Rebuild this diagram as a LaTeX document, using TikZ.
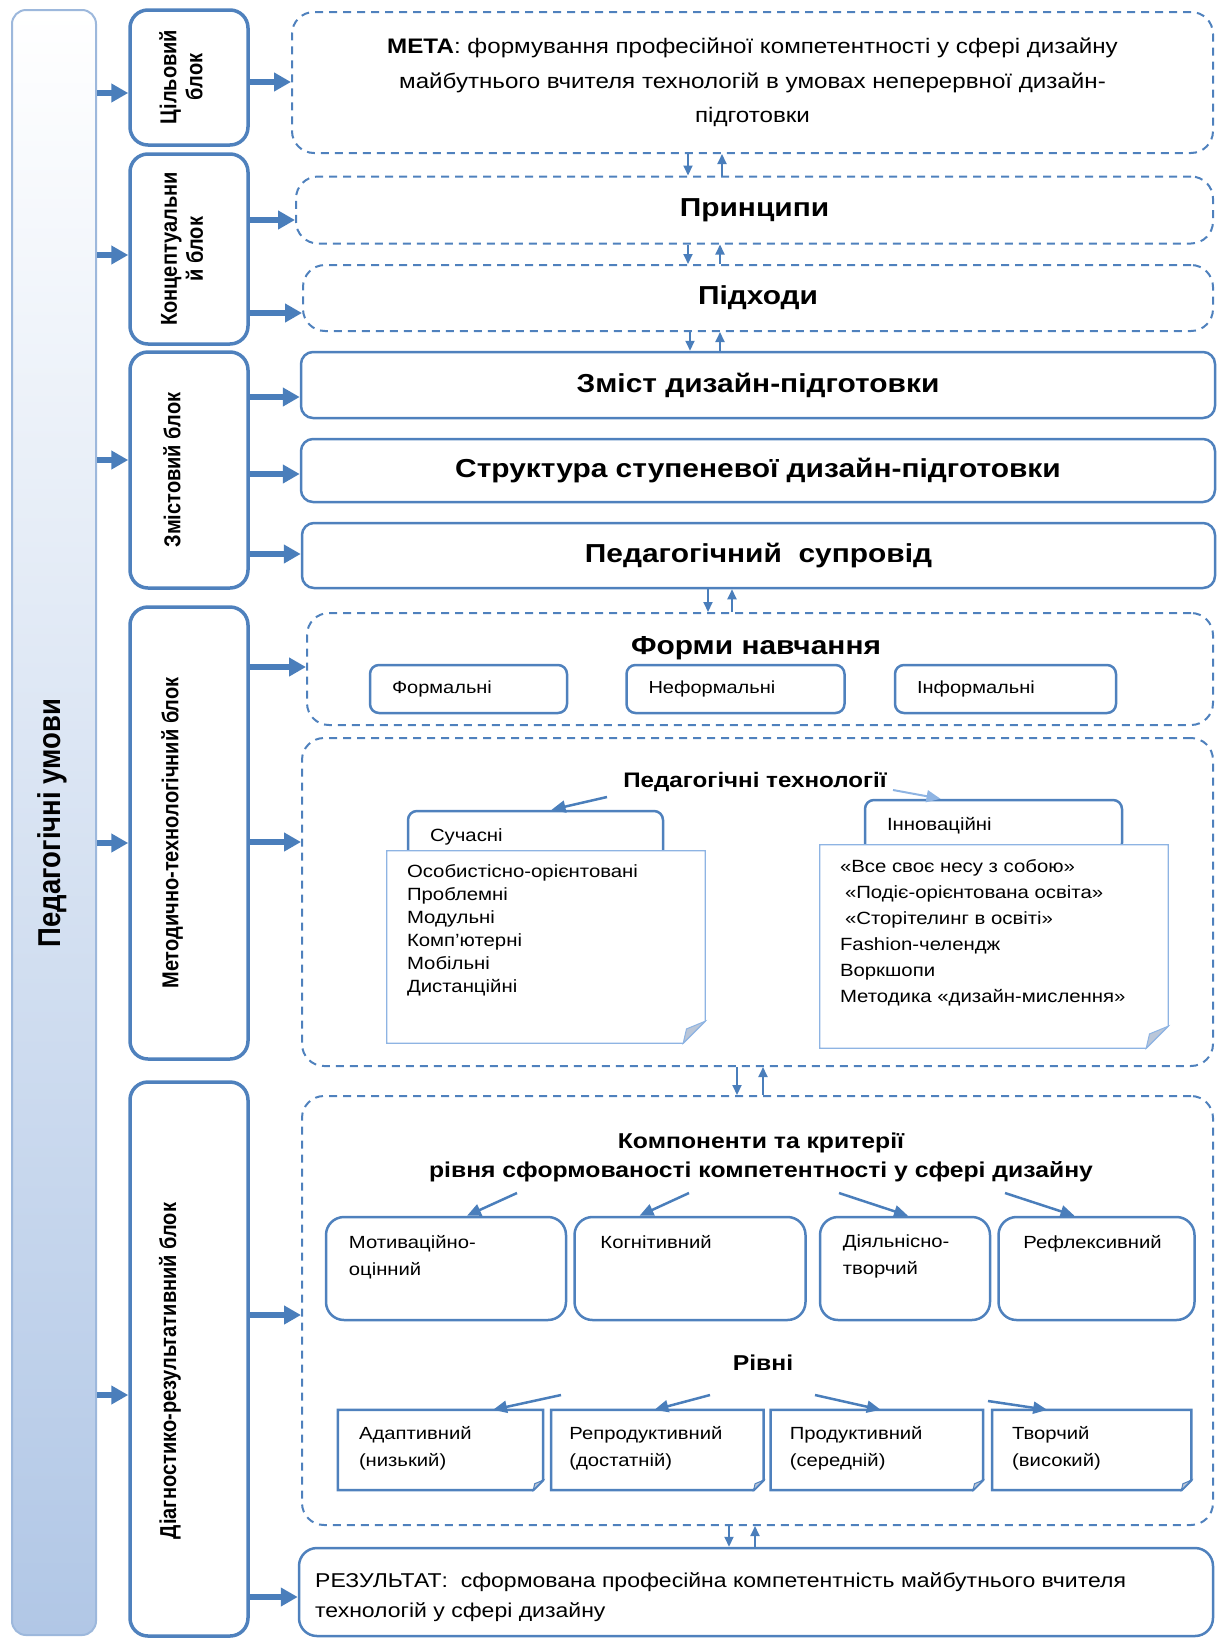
\documentclass[tikz,border=0pt]{standalone}
\usepackage{fontspec}
\setmainfont{Liberation Sans}[FakeStretch=1.15]
\newfontfamily\rotfont{Liberation Sans}[FakeStretch=0.87]
\usepackage{tikz}
\usetikzlibrary{arrows.meta,positioning}

\definecolor{schemeblue}{HTML}{4F81BD}
\definecolor{arrowblue}{HTML}{4A7EBB}
\definecolor{paleblue}{HTML}{8EB4E3}
\definecolor{barblue}{HTML}{B1C7E6}
\definecolor{barline}{HTML}{9DB8DC}
\definecolor{foldgrey}{HTML}{BAC6D8}

\begin{document}
\begin{tikzpicture}[x=1pt, y=-1pt, >={Triangle[length=17pt,width=18pt]},
  block/.style={draw=schemeblue, line width=3.5pt, rounded corners=18pt, minimum width=118pt},
  blocklabel/.style={rotate=90, align=center, inner sep=0pt, font=\rotfont\bfseries\fontsize{23}{26}\selectfont},
  dashbox/.style={draw=schemeblue, line width=2pt, dash pattern=on 8pt off 6pt, rounded corners=22pt},
  plainbox/.style={draw=schemeblue, line width=2.5pt, rounded corners=12pt},
  heading/.style={font=\bfseries\fontsize{26}{30}\selectfont},
  subhead/.style={font=\bfseries\fontsize{21.5}{29}\selectfont, align=center},
  smallbox/.style={plainbox, rounded corners=9pt, minimum height=48pt, inner xsep=22pt, align=left, font=\fontsize{17.4}{21}\selectfont},
  tab/.style={plainbox, rounded corners=9pt, minimum height=52pt, inner xsep=22pt, align=left, font=\fontsize{17.7}{21}\selectfont},
  compbox/.style={plainbox, rounded corners=18pt, minimum height=103pt},
  note/.style={fill=white, inner sep=0pt},
  itemtext/.style={anchor=north west, inner sep=0pt, align=left, font=\fontsize{17.6}{27}\selectfont},
  fat/.style={->, draw=arrowblue, line width=6pt},
  updown/.style={-{Triangle[length=10pt,width=9pt]}, draw=arrowblue, line width=2pt},
  pointer/.style={-{Triangle[length=14pt,width=12pt]}, draw=arrowblue, line width=2.5pt}]

\useasboundingbox (0,0) rectangle (1218,1639);

% left column and blocks
\node (bar) [draw=barline, line width=2pt, rounded corners=14pt, top color=white, bottom color=barblue, minimum width=84pt, minimum height=1625pt] at (54,822.5) {};
\node (barlabel) [rotate=90, font=\rotfont\bfseries\fontsize{31.6}{36}\selectfont] at (52,823) {Педагогічні умови};

\node (goal) [block, minimum height=135pt] at (189,77.5) {};
\node (goallabel) [blocklabel] at (181,77) {Цільовий\\блок};
\node (concept) [block, minimum height=190pt] at (189,249) {};
\node (conceptlabel) [blocklabel] at (182,249) {Концептуальни\\й блок};
\node (content) [block, minimum height=236pt] at (189,470) {};
\node (contentlabel) [blocklabel] at (172,470) {Змістовий блок};
\node (method) [block, minimum height=452pt] at (189,833) {};
\node (methodlabel) [blocklabel] at (172,833) {Методично-технологічний блок};
\node (diag) [block, minimum height=554pt] at (189,1359) {};
\node (diaglabel) [blocklabel] at (170,1371) {Діагностико-результативний блок};

% right column
\node (meta) [dashbox, minimum width=921pt, minimum height=141pt, align=center, font=\fontsize{21}{34.5}\selectfont] at (752.5,82.5)
  {\textbf{МЕТА}: формування професійної компетентності у сфері дизайну\\майбутнього вчителя технологій в умовах неперервної дизайн-\\підготовки};
\node (principles) [dashbox, heading, minimum width=917pt, minimum height=67pt] at (754.5,210) {Принципи};
\node (approaches) [dashbox, heading, minimum width=910pt, minimum height=66pt] at (758,298) {Підходи};
\node (essence) [plainbox, heading, minimum width=914pt, minimum height=66pt] at (758,385) {Зміст дизайн-підготовки};
\node (structure) [plainbox, heading, minimum width=914pt, minimum height=63pt] at (758,470.5) {Структура ступеневої дизайн-підготовки};
\node (support) [plainbox, heading, minimum width=913pt, minimum height=65pt] at (758.5,555.5) {Педагогічний~ супровід};

% forms
\node (forms) [dashbox, minimum width=906pt, minimum height=112pt] at (760,669) {};
\node (formtitle) [heading] at (756,648) {Форми навчання};
\node (formal) [smallbox, text width=153pt] at (468.5,689) {Формальні};
\node (nonformal) [smallbox, text width=174pt, right=57pt of formal] {Неформальні};
\node (informal) [smallbox, text width=177pt, right=48pt of nonformal] {Інформальні};

% technologies
\node (tech) [dashbox, minimum width=911pt, minimum height=328pt] at (757.5,902) {};
\node (techtitle) [font=\bfseries\fontsize{21}{25}\selectfont] at (755,782) {Педагогічні технології};
\node (modtab) [tab, text width=211pt] at (535.5,837) {Сучасні};
\node (inntab) [tab, text width=213pt] at (993.5,826) {Інноваційні};
\node (modnote) [note, minimum width=318pt, minimum height=192pt] at (546,947) {};
\node (innnote) [note, minimum width=348pt, minimum height=203pt] at (994,946.5) {};
\foreach \n/\f in {modnote/22, innnote/22}{
  \draw[paleblue, line width=1.3pt] (\n.north west) -- (\n.north east) -- ([yshift=\f*1pt]\n.south east)
    -- ([xshift=-\f*1pt]\n.south east) -- (\n.south west) -- cycle;
  \filldraw[draw=paleblue, fill=foldgrey, line width=1pt] ([yshift=\f*1pt]\n.south east) -- ([xshift=-\f*1pt]\n.south east)
    -- ([xshift=-0.85*\f*1pt, yshift=0.65*\f*1pt]\n.south east) -- cycle;
}
\node (modlist) [itemtext, font=\fontsize{17.7}{23}\selectfont] at ([xshift=20pt, yshift=-14pt]modnote.north west)
  {Особистісно-орієнтовані\\Проблемні\\Модульні\\Комп'ютерні\\Мобільні\\Дистанційні};
\node (innlist) [itemtext, font=\fontsize{17.7}{26}\selectfont] at ([xshift=20pt, yshift=-15pt]innnote.north west)
  {«Все своє несу з собою»\\\hspace{5pt}«Подіє-орієнтована освіта»\\\hspace{5pt}«Сторітелинг в освіті»\\Fashion-челендж\\Воркшопи\\Методика «дизайн-мислення»};
\coordinate (modfrom) at (607,797);
\coordinate (innfrom) at (893,790);
\draw[pointer] (modfrom) -- ([xshift=16pt]modtab.north);
\draw[pointer, draw=paleblue, line width=2pt] (innfrom) -- ([xshift=-53pt]inntab.north);

% diagnostics
\node (diagbox) [dashbox, minimum width=911pt, minimum height=429pt] at (757.5,1310.5) {};
\node (comptitle) [subhead] at (761,1157) {Компоненти та критерії\\рівня сформованості компетентності у сфері дизайну};
\node (motiv) [compbox, minimum width=240pt] at (446,1268.5) {};
\node (cogn) [compbox, minimum width=231pt, right=6pt of motiv] {};
\node (activ) [compbox, minimum width=170pt, right=12pt of cogn] {};
\node (reflex) [compbox, minimum width=196pt, right=6pt of activ] {};
\node (motivtext) [itemtext] at ([xshift=24pt, yshift=-19pt]motiv.north west) {Мотиваційно-\\оцінний};
\node (cogntext) [itemtext] at ([xshift=27pt, yshift=-19pt]cogn.north west) {Когнітивний};
\node (activtext) [itemtext] at ([xshift=24pt, yshift=-19pt]activ.north west) {Діяльнісно-\\творчий};
\node (reflextext) [itemtext] at ([xshift=26pt, yshift=-19pt]reflex.north west) {Рефлексивний};
\coordinate (motivfrom) at (517,1193);
\coordinate (cognfrom) at (689,1193);
\coordinate (activfrom) at (839,1193);
\coordinate (reflexfrom) at (1005,1193);
\draw[pointer] (motivfrom) -- ([xshift=21pt]motiv.north);
\draw[pointer] (cognfrom) -- ([xshift=-50.5pt]cogn.north);
\draw[pointer] (activfrom) -- ([xshift=3pt]activ.north);
\draw[pointer] (reflexfrom) -- ([xshift=-22pt]reflex.north);

\node (levtitle) [subhead] at (763,1363) {Рівні};
\node (low) [note, minimum width=205pt, minimum height=80pt] at (440.5,1450) {};
\node (repro) [note, minimum width=212pt, minimum height=80pt, right=8pt of low] {};
\node (prod) [note, minimum width=212pt, minimum height=80pt, right=7pt of repro] {};
\node (creat) [note, minimum width=199pt, minimum height=80pt, right=9pt of prod] {};
\foreach \n/\f in {low/10, repro/10, prod/10, creat/10}{
  \draw[schemeblue, line width=2.5pt] (\n.north west) -- (\n.north east) -- ([yshift=\f*1pt]\n.south east)
    -- ([xshift=-\f*1pt]\n.south east) -- (\n.south west) -- cycle;
  \filldraw[draw=schemeblue, fill=foldgrey, line width=1pt] ([yshift=\f*1pt]\n.south east) -- ([xshift=-\f*1pt]\n.south east)
    -- ([xshift=-0.85*\f*1pt, yshift=0.65*\f*1pt]\n.south east) -- cycle;
}
\node (lowtext) [itemtext] at ([xshift=21pt, yshift=-16pt]low.north west) {Адаптивний\\(низький)};
\node (reprotext) [itemtext] at ([xshift=18pt, yshift=-16pt]repro.north west) {Репродуктивний\\(достатній)};
\node (prodtext) [itemtext] at ([xshift=19pt, yshift=-16pt]prod.north west) {Продуктивний\\(середній)};
\node (creattext) [itemtext] at ([xshift=20pt, yshift=-16pt]creat.north west) {Творчий\\(високий)};
\coordinate (lowfrom) at (561,1395);
\coordinate (reprofrom) at (710,1395);
\coordinate (prodfrom) at (815,1395);
\coordinate (creatfrom) at (988,1401);
\draw[pointer] (lowfrom) -- ([xshift=52.5pt]low.north);
\draw[pointer] (reprofrom) -- ([xshift=-3pt]repro.north);
\draw[pointer] (prodfrom) -- ([xshift=4pt]prod.north);
\draw[pointer] (creatfrom) -- ([xshift=-44.5pt]creat.north);

\node (result) [plainbox, rounded corners=18pt, minimum width=914pt, minimum height=88pt] at (756,1592) {};
\node (resulttext) [anchor=west, align=left, inner sep=0pt, font=\fontsize{20}{30}\selectfont] at (315,1597)
  {РЕЗУЛЬТАТ:~ сформована професійна компетентність майбутнього вчителя\\технологій у сфері дизайну};

% arrows from the bar to the blocks
\draw[fat] (bar.east |- 0,93) -- (goal.west |- 0,93);
\draw[fat] (bar.east |- 0,255) -- (concept.west |- 0,255);
\draw[fat] (bar.east |- 0,460) -- (content.west |- 0,460);
\draw[fat] (bar.east |- 0,843) -- (method.west |- 0,843);
\draw[fat] (bar.east |- 0,1395) -- (diag.west |- 0,1395);

% arrows from the blocks
\draw[fat] (goal.east |- 0,82) -- (meta.west |- 0,82);
\draw[fat] (concept.east |- 0,220) -- (principles.west |- 0,220);
\draw[fat] (concept.east |- 0,313) -- (approaches.west |- 0,313);
\draw[fat] (content.east |- 0,397) -- (essence.west |- 0,397);
\draw[fat] (content.east |- 0,474) -- (structure.west |- 0,474);
\draw[fat] (content.east |- 0,554) -- (support.west |- 0,554);
\draw[fat] (method.east |- 0,667) -- (forms.west |- 0,667);
\draw[fat] (method.east |- 0,842) -- (tech.west |- 0,842);
\draw[fat] (diag.east |- 0,1315) -- (diagbox.west |- 0,1315);
\draw[fat] (diag.east |- 0,1597) -- (result.west |- 0,1597);

% links between the boxes
\draw[updown] (meta.south -| 688,0) -- (principles.north -| 688,0);
\draw[updown] (principles.north -| 722,0) -- (meta.south -| 722,0);
\draw[updown] (principles.south -| 688,0) -- (approaches.north -| 688,0);
\draw[updown] (approaches.north -| 720,0) -- (principles.south -| 720,0);
\draw[updown] (approaches.south -| 690,0) -- (essence.north -| 690,0);
\draw[updown] (essence.north -| 720,0) -- (approaches.south -| 720,0);
\draw[updown] (support.south -| 708,0) -- (forms.north -| 708,0);
\draw[updown] (forms.north -| 732,0) -- (support.south -| 732,0);
\draw[updown] (tech.south -| 737,0) -- (diagbox.north -| 737,0);
\draw[updown] (diagbox.north -| 763,0) -- (tech.south -| 763,0);
\draw[updown] (diagbox.south -| 729,0) -- (result.north -| 729,0);
\draw[updown] (result.north -| 755,0) -- (diagbox.south -| 755,0);
\end{tikzpicture}
\end{document}
